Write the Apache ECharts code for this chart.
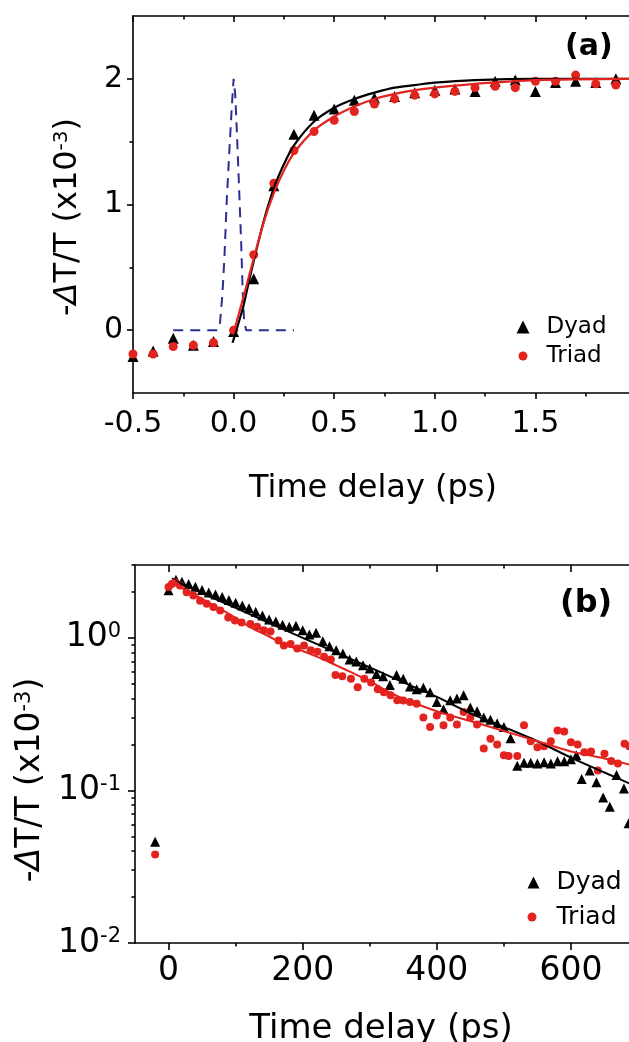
<!DOCTYPE html>
<html><head><meta charset="utf-8">
<script src="https://cdn.jsdelivr.net/npm/echarts@6/dist/echarts.min.js"></script>
<style>html,body{margin:0;padding:0;background:#fff;overflow:hidden}#c{width:629px;height:1042px}</style>
</head><body><div id="c"></div>
<script>
// ---------- Panel (a) data ----------
const dyadA = [[-0.5,-0.21],[-0.4,-0.165],[-0.3,-0.065],[-0.2,-0.12],[-0.1,-0.09],[0.0,-0.01],[0.1,0.41],[0.2,1.15],[0.3,1.56],[0.4,1.71],[0.5,1.76],[0.6,1.83],[0.7,1.85],[0.8,1.86],[0.9,1.89],[1.0,1.91],[1.1,1.92],[1.2,1.90],[1.3,1.98],[1.4,1.99],[1.5,1.90],[1.6,1.97],[1.7,1.98],[1.8,1.97],[1.9,2.0]];
const triadA = [[-0.5,-0.19],[-0.4,-0.19],[-0.3,-0.13],[-0.2,-0.12],[-0.1,-0.10],[0.0,0.0],[0.1,0.60],[0.2,1.17],[0.3,1.43],[0.4,1.58],[0.5,1.67],[0.6,1.74],[0.7,1.80],[0.8,1.84],[0.9,1.87],[1.0,1.88],[1.1,1.90],[1.2,1.93],[1.3,1.94],[1.4,1.93],[1.5,1.98],[1.6,1.98],[1.7,2.03],[1.8,1.96],[1.9,1.95]];
const dyadFitA = [[-0.005,-0.1],[0.025,0.06],[0.05,0.2],[0.075,0.38],[0.1,0.55],[0.15,0.87],[0.2,1.13],[0.25,1.32],[0.3,1.47],[0.4,1.66],[0.5,1.77],[0.6,1.84],[0.7,1.89],[0.8,1.93],[0.9,1.95],[1.0,1.97],[1.2,1.99],[1.5,2.0],[2.0,2.0]];
const triadFitA = [[0,-0.02],[0.05,0.27],[0.1,0.57],[0.15,0.86],[0.2,1.09],[0.25,1.27],[0.3,1.41],[0.4,1.59],[0.5,1.70],[0.6,1.78],[0.7,1.84],[0.8,1.88],[0.9,1.91],[1.0,1.93],[1.2,1.96],[1.5,1.99],[2.0,2.0]];
const pulseA = [[-0.3,0],[-0.08,0],[-0.068,0.05],[-0.055,0.3],[-0.045,0.6],[-0.035,1.0],[-0.022,1.4],[-0.01,1.75],[0,2.0],[0.008,1.88],[0.017,1.55],[0.028,1.1],[0.038,0.68],[0.045,0.31],[0.052,0.08],[0.062,0],[0.3,0]];
const xLabelsA = [-0.5,0,0.5,1,1.5];
const yLabelsA = [0,1,2];
const yMinorA = [0.5,1.5];

// ---------- Panel (b) data ----------
const dyadB = [[-20,0.046],[0,2.05],[11,2.40],[20,2.33],[30,2.25],[40,2.16],[50,2.06],[60,1.98],[70,1.92],[80,1.85],[90,1.77],[100,1.70],[110,1.63],[120,1.56],[130,1.48],[140,1.40],[150,1.32],[160,1.28],[170,1.22],[180,1.18],[190,1.20],[200,1.12],[210,1.05],[220,1.08],[230,0.95],[240,0.88],[250,0.83],[260,0.79],[270,0.72],[280,0.70],[290,0.66],[300,0.63],[310,0.58],[320,0.56],[330,0.49],[340,0.57],[350,0.54],[360,0.48],[370,0.46],[380,0.47],[390,0.44],[400,0.38],[410,0.34],[420,0.39],[430,0.40],[440,0.42],[450,0.35],[460,0.33],[470,0.30],[480,0.29],[490,0.275],[500,0.26],[510,0.22],[520,0.145],[530,0.152],[540,0.152],[550,0.15],[560,0.153],[570,0.15],[580,0.155],[590,0.155],[600,0.16],[608,0.17],[616,0.119],[628,0.135],[638,0.113],[648,0.090],[658,0.078],[668,0.126],[679,0.103],[686,0.061]];
const triadB = [[-20,0.038],[0,2.15],[5,2.25],[10,2.3],[17,2.2],[27,1.99],[37,1.89],[47,1.75],[57,1.67],[67,1.59],[77,1.51],[89,1.36],[99,1.30],[109,1.26],[122,1.23],[132,1.18],[142,1.12],[152,1.10],[164,0.96],[172,0.89],[182,0.91],[192,0.85],[202,0.89],[212,0.83],[222,0.81],[232,0.75],[242,0.72],[249,0.57],[259,0.56],[272,0.54],[282,0.475],[292,0.54],[302,0.51],[312,0.46],[321,0.44],[331,0.42],[341,0.39],[350,0.389],[360,0.38],[370,0.37],[380,0.30],[390,0.26],[400,0.31],[410,0.267],[420,0.30],[430,0.27],[440,0.326],[450,0.30],[460,0.27],[470,0.188],[480,0.218],[490,0.20],[500,0.17],[507,0.168],[520,0.168],[530,0.267],[540,0.21],[550,0.192],[560,0.195],[570,0.21],[580,0.247],[590,0.243],[600,0.207],[610,0.20],[620,0.178],[630,0.18],[640,0.135],[650,0.174],[660,0.156],[670,0.15],[680,0.202],[687,0.195]];
const dyadFitB = [[5,2.45],[22,2.23],[50,1.96],[100,1.57],[150,1.25],[200,1.0],[250,0.80],[300,0.64],[350,0.51],[400,0.41],[450,0.32],[500,0.26],[550,0.21],[600,0.164],[650,0.131],[700,0.105]];
const triadFitB = [[5,2.4],[10,2.35],[22,2.09],[50,1.80],[72,1.59],[100,1.35],[122,1.17],[150,1.02],[172,0.91],[200,0.82],[222,0.75],[250,0.66],[272,0.595],[300,0.52],[321,0.46],[350,0.40],[400,0.33],[450,0.285],[500,0.245],[550,0.21],[600,0.18],[650,0.162],[700,0.143]];
const xLabelsB = [0,200,400,600];
const xMinorB = [100,300,500,700];
const yLabelsB = [0.01,0.1,1];
const yMinorB = [0.02,0.03,0.04,0.05,0.06,0.07,0.08,0.09,0.2,0.3,0.4,0.5,0.6,0.7,0.8,0.9,2,3];

// ---------- styling ----------
const FONT = 'DejaVu Sans';
const BLACK = '#000000';
const RED = '#e3231f';
const BLUE = '#2b2f93';
const LINE = {color: BLACK, width: 1.6};

function mainX(grid, pos, min, max, extra) {
  return Object.assign({
    gridIndex: grid, type: 'value', position: pos, min: min, max: max,
    axisLine: {show: true, onZero: false, lineStyle: LINE},
    axisTick: {show: true, inside: pos === 'top', length: 6, lineStyle: LINE},
    axisLabel: {show: false},
    splitLine: {show: false}
  }, extra || {});
}
function mainY(grid, pos, type, min, max, extra) {
  return Object.assign({
    gridIndex: grid, type: type, position: pos, min: min, max: max,
    axisLine: {show: true, onZero: false, lineStyle: LINE},
    axisTick: {show: true, inside: pos === 'right', length: 6, lineStyle: LINE},
    axisLabel: {show: false},
    splitLine: {show: false}
  }, extra || {});
}
function minorAxis(grid, pos, type, min, max, values, inside) {
  const a = {gridIndex: grid, type: type, position: pos, min: min, max: max,
    axisLine: {show: false, onZero: false},
    axisTick: {show: true, inside: inside, length: 3.5, lineStyle: LINE, customValues: values},
    axisLabel: {show: false}, splitLine: {show: false}};
  if (type === 'log') a.logBase = 10;
  return a;
}

const chart = echarts.init(document.getElementById('c'), null, {renderer: 'canvas'});
const gA = {left: 133, top: 16, width: 503, height: 377, containLabel: false, outerBoundsMode: 'none'};
const gB = {left: 135, top: 565, width: 503, height: 378, containLabel: false, outerBoundsMode: 'none'};

const option = {
  animation: false,
  backgroundColor: '#ffffff',
  textStyle: {fontFamily: FONT, color: BLACK},
  title: [
    {text: '(a)', left: 565, top: 32, padding: 0, textStyle: {fontFamily: FONT, fontWeight: 'bold', fontSize: 30, color: BLACK}},
    {text: '(b)', left: 560, top: 588, padding: 0, textStyle: {fontFamily: FONT, fontWeight: 'bold', fontSize: 32, color: BLACK}}
  ],
  legend: [
    {data: [{name: 'Dyad', icon: 'triangle'}], left: 516.5, top: 315.5, padding: 0, itemWidth: 13, itemHeight: 13, selectedMode: false, textStyle: {fontFamily: FONT, fontSize: 23, color: BLACK, padding: [0,0,0,12]}},
    {data: [{name: 'Triad', icon: 'circle'}], left: 518.5, top: 344.5, padding: 0, itemWidth: 9, itemHeight: 9, selectedMode: false, textStyle: {fontFamily: FONT, fontSize: 23, color: BLACK, padding: [0,0,0,14]}},
    {data: [{name: 'Dyad', icon: 'triangle'}], left: 527.5, top: 870, padding: 0, itemWidth: 12, itemHeight: 12, selectedMode: false, textStyle: {fontFamily: FONT, fontSize: 25, color: BLACK, padding: [0,0,0,12]}},
    {data: [{name: 'Triad', icon: 'circle'}], left: 527.5, top: 904.5, padding: 0, itemWidth: 9, itemHeight: 9, selectedMode: false, textStyle: {fontFamily: FONT, fontSize: 25, color: BLACK, padding: [0,0,0,15]}}
  ],
  grid: [gA, Object.assign({}, gA), gB, Object.assign({}, gB)],
  xAxis: [
    // 0: panel a bottom
    mainX(0, 'bottom', -0.5, 2, {
      interval: 0.5,
      minorTick: {show: true, splitNumber: 2, length: 3.5, lineStyle: LINE},
      axisLabel: {show: true, customValues: xLabelsA, fontFamily: FONT, fontSize: 30, color: BLACK, margin: 16,
        formatter: v => v.toFixed(1)},
      name: 'Time delay (ps)', nameLocation: 'middle', nameGap: 80,
      nameTextStyle: {fontFamily: FONT, fontSize: 32, color: BLACK, padding: [0, 23, 0, 0]}
    }),
    // 1: panel a top
    mainX(0, 'top', -0.5, 2, {interval: 0.5, minorTick: {show: true, splitNumber: 2, length: 3.5, lineStyle: LINE}}),
    // 2: panel a overlay (hidden)
    {gridIndex: 1, type: 'value', min: -0.5, max: 2, show: false, axisLine: {onZero: false}},
    // 3: panel b bottom
    mainX(2, 'bottom', -50, 700, {
      axisTick: {show: true, inside: false, length: 7, lineStyle: LINE, customValues: xLabelsB},
      axisLabel: {show: true, customValues: xLabelsB, fontFamily: FONT, fontSize: 33, color: BLACK, margin: 12},
      name: 'Time delay (ps)', nameLocation: 'middle', nameGap: 69,
      nameTextStyle: {fontFamily: FONT, fontSize: 34, color: BLACK, padding: [0, 11, 0, 0]}
    }),
    // 4: panel b top
    mainX(2, 'top', -50, 700, {axisTick: {show: true, inside: true, length: 7, lineStyle: LINE, customValues: xLabelsB}}),
    // 5,6: panel b minor ticks
    minorAxis(3, 'bottom', 'value', -50, 700, xMinorB, false),
    minorAxis(3, 'top', 'value', -50, 700, xMinorB, true)
  ],
  yAxis: [
    // 0: panel a left
    mainY(0, 'left', 'value', -0.5, 2.5, {
      axisTick: {show: true, inside: false, length: 6, lineStyle: LINE, customValues: yLabelsA},
      axisLabel: {show: true, customValues: yLabelsA, fontFamily: FONT, fontSize: 30, color: BLACK, margin: 10},
      name: '-{i|Δ}T/T (x10{s|-3})', nameLocation: 'middle', nameGap: 49, nameRotate: 90,
      nameTextStyle: {fontFamily: FONT, fontSize: 32, color: BLACK, padding: [0, 25, 0, 0],
        rich: {i: {fontFamily: FONT, fontSize: 32, fontStyle: 'italic', color: BLACK},
               s: {fontFamily: FONT, fontSize: 20, color: BLACK, verticalAlign: 'top'}}}
    }),
    // 1: panel a right
    mainY(0, 'right', 'value', -0.5, 2.5, {axisTick: {show: true, inside: true, length: 6, lineStyle: LINE, customValues: yLabelsA}}),
    // 2,3: panel a minor
    minorAxis(1, 'left', 'value', -0.5, 2.5, yMinorA, false),
    minorAxis(1, 'right', 'value', -0.5, 2.5, yMinorA, true),
    // 4: panel b left (log)
    mainY(2, 'left', 'log', 0.01, 3, {
      logBase: 10,
      axisTick: {show: true, inside: false, length: 7, lineStyle: LINE, customValues: yLabelsB},
      axisLabel: {show: true, customValues: yLabelsB, fontFamily: FONT, fontSize: 33, color: BLACK, margin: 14,
        formatter: v => '{b|10}{s|' + Math.round(Math.log10(v)) + '}',
        rich: {b: {fontFamily: FONT, fontSize: 33, color: BLACK}, s: {fontFamily: FONT, fontSize: 21, color: BLACK, verticalAlign: 'top'}}},
      name: '-{i|Δ}T/T (x10{s|-3})', nameLocation: 'middle', nameGap: 80, nameRotate: 90,
      nameTextStyle: {fontFamily: FONT, fontSize: 33, color: BLACK, padding: [0, 52, 0, 0],
        rich: {i: {fontFamily: FONT, fontSize: 33, fontStyle: 'italic', color: BLACK},
               s: {fontFamily: FONT, fontSize: 21, color: BLACK, verticalAlign: 'top'}}}
    }),
    // 5: panel b right
    mainY(2, 'right', 'log', 0.01, 3, {logBase: 10, axisTick: {show: true, inside: true, length: 7, lineStyle: LINE, customValues: yLabelsB}}),
    // 6,7: panel b minor log ticks
    minorAxis(3, 'left', 'log', 0.01, 3, yMinorB, false),
    minorAxis(3, 'right', 'log', 0.01, 3, yMinorB, true)
  ],
  series: [
    {name: 'Dyad', type: 'scatter', xAxisIndex: 0, yAxisIndex: 0, data: dyadA, symbol: 'triangle', symbolSize: 11, itemStyle: {color: BLACK, opacity: 1}, z: 2},
    {name: 'Triad', type: 'scatter', xAxisIndex: 0, yAxisIndex: 0, data: triadA, symbol: 'circle', symbolSize: 9, itemStyle: {color: RED, opacity: 1}, z: 3},
    {name: 'pulse', type: 'line', xAxisIndex: 0, yAxisIndex: 0, data: pulseA, showSymbol: false, symbol: 'none', lineStyle: {color: BLUE, width: 2, type: [10, 7]}, z: 4},
    {name: 'fitDyadA', type: 'line', xAxisIndex: 0, yAxisIndex: 0, data: dyadFitA, smooth: 0.3, symbol: 'none', lineStyle: {color: BLACK, width: 2.2}, z: 5},
    {name: 'fitTriadA', type: 'line', xAxisIndex: 0, yAxisIndex: 0, data: triadFitA, smooth: 0.3, symbol: 'none', lineStyle: {color: RED, width: 2.2}, z: 6},
    {name: 'Dyad', type: 'scatter', xAxisIndex: 3, yAxisIndex: 4, data: dyadB, symbol: 'triangle', symbolSize: 10, itemStyle: {color: BLACK, opacity: 1}, z: 2},
    {name: 'Triad', type: 'scatter', xAxisIndex: 3, yAxisIndex: 4, data: triadB, symbol: 'circle', symbolSize: 8, itemStyle: {color: RED, opacity: 1}, z: 3},
    {name: 'fitDyadB', type: 'line', xAxisIndex: 3, yAxisIndex: 4, data: dyadFitB, smooth: 0.3, symbol: 'none', lineStyle: {color: BLACK, width: 2}, z: 5},
    {name: 'fitTriadB', type: 'line', xAxisIndex: 3, yAxisIndex: 4, data: triadFitB, smooth: 0.3, symbol: 'none', lineStyle: {color: RED, width: 2}, z: 6}
  ]
};
chart.setOption(option);
</script>
</body></html>
